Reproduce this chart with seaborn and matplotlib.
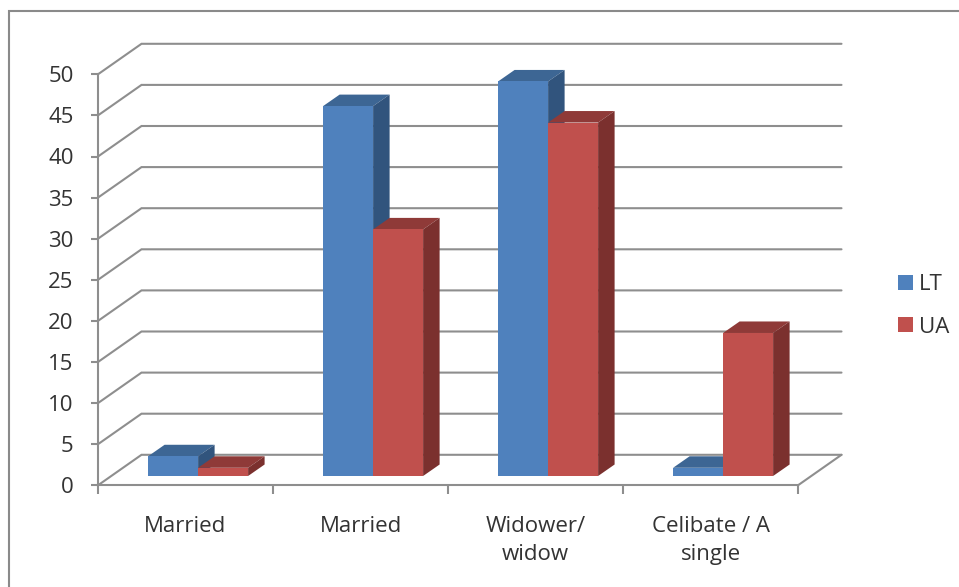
import matplotlib
matplotlib.use("Agg")
import matplotlib.pyplot as plt
from matplotlib.lines import Line2D
from matplotlib.patches import Polygon
import pandas as pd
import seaborn as sns

# Survey results by marital status
categories = ["Married", "Married", "Widower/\nwidow", "Celibate / A\nsingle"]
series_names = ["LT", "UA"]
lt_values = [2.4, 45, 48, 1]
ua_values = [1, 30, 43, 17.4]
y_ticks = list(range(0, 55, 5))

W, H = 959, 587
front_colors = {"LT": "#4F81BD", "UA": "#C0504D"}
top_colors = {"LT": "#3D6694", "UA": "#8F3A38"}
side_colors = {"LT": "#31547D", "UA": "#7B302E"}
line_color = "#8E8E8E"
text_color = "#333333"

sns.set_theme(style="white")
plt.rcParams["font.family"] = ["Open Sans", "DejaVu Sans"]

table = pd.DataFrame({
    "group": list(range(len(categories))) * 2,
    "series": [series_names[0]] * len(lt_values) + [series_names[1]] * len(ua_values),
    "value": lt_values + ua_values,
})

fig = plt.figure(figsize=(W / 100, H / 100), dpi=100, facecolor="white")


def pixel_axes(left, baseline, width, height):
    return fig.add_axes([left / W, (H - baseline) / H, width / W, height / H])


# Floor and wall of the box, on the front plane of the chart
ax = pixel_axes(98, 485.3, 700, 411)
ax.set_xlim(-0.5, 3.5)
ax.set_ylim(0, 50)
wall_dx, wall_dy = 43.5 / 175, 30.5 * 50 / 411
for tick in y_ticks:
    ax.plot([-0.5, -0.5 + wall_dx, 3.5 + wall_dx],
            [tick, tick + wall_dy, tick + wall_dy],
            color=line_color, lw=1.5, clip_on=False, solid_joinstyle="miter")
ax.plot([3.5, 3.5 + wall_dx], [0, wall_dy], color=line_color, lw=1.5, clip_on=False)

ax.set_yticks(y_ticks)
ax.set_xticks([-0.5, 0.5, 1.5, 2.5, 3.5])
ax.set_xticklabels([])
ax.set_xticks(range(len(categories)), labels=categories, minor=True)
ax.tick_params(axis="x", which="major", length=6.5, width=1.5, color=line_color, bottom=True)
ax.tick_params(axis="x", which="minor", length=0, pad=22, labelsize=16, labelcolor=text_color, bottom=True)
ax.tick_params(axis="y", length=5, width=1.5, color=line_color, pad=12.5, labelsize=16,
               labelcolor=text_color, left=True)
for label in ax.get_xticklabels(minor=True):
    label.set_linespacing(1.42)
for label in ax.get_yticklabels():
    label.set_y(label.get_position()[1])
sns.despine(ax=ax)
for name in ("left", "bottom"):
    ax.spines[name].set_color(line_color)
    ax.spines[name].set_linewidth(1.5)

# Bars sit a little behind the front plane, so they get their own shifted axes
bar_ax = pixel_axes(110.6, 476, 700, 411)
bar_ax.patch.set_alpha(0)
sns.barplot(data=table, x="group", y="value", hue="series", hue_order=series_names,
            palette=front_colors, width=100 / 175, gap=0, saturation=1, errorbar=None,
            linewidth=0, ax=bar_ax)
bar_ax.set_xlim(-0.5, 3.5)
bar_ax.set_ylim(0, 50)
bar_ax.set_axis_off()

# Extrude each bar with a top and a side face
bar_dx, bar_dy = 16.5 / 175, 11.5 * 50 / 411
for order, (name, container) in enumerate(zip(series_names, bar_ax.containers)):
    for bar in container:
        x0, x1 = bar.get_x(), bar.get_x() + bar.get_width()
        top = bar.get_height()
        bar.set_zorder(5)
        bar.set_clip_on(False)
        bar_ax.add_patch(Polygon(
            [(x0, top), (x1, top), (x1 + bar_dx, top + bar_dy), (x0 + bar_dx, top + bar_dy)],
            closed=True, facecolor=top_colors[name], edgecolor="none",
            zorder=2 + order, clip_on=False))
        bar_ax.add_patch(Polygon(
            [(x1, 0), (x1 + bar_dx, bar_dy), (x1 + bar_dx, top + bar_dy), (x1, top)],
            closed=True, facecolor=side_colors[name], edgecolor="none",
            zorder=2 + order, clip_on=False))

handles, labels = bar_ax.get_legend_handles_labels()
bar_ax.legend(handles, labels, loc="center left", bbox_to_anchor=(898 / W, (H - 306) / H),
              bbox_transform=fig.transFigure, frameon=False, fontsize=16,
              handlelength=0.675, handleheight=0.675, handletextpad=0.27,
              labelspacing=0.96, labelcolor=text_color, borderpad=0, borderaxespad=0)

# Chart area border
fig.add_artist(Line2D([8.5 / W, 8.5 / W, 1], [0, (H - 11) / H, (H - 11) / H],
                      color="#8A8A8A", lw=1.5, solid_joinstyle="miter"))

fig.savefig("out.png", dpi=100)
